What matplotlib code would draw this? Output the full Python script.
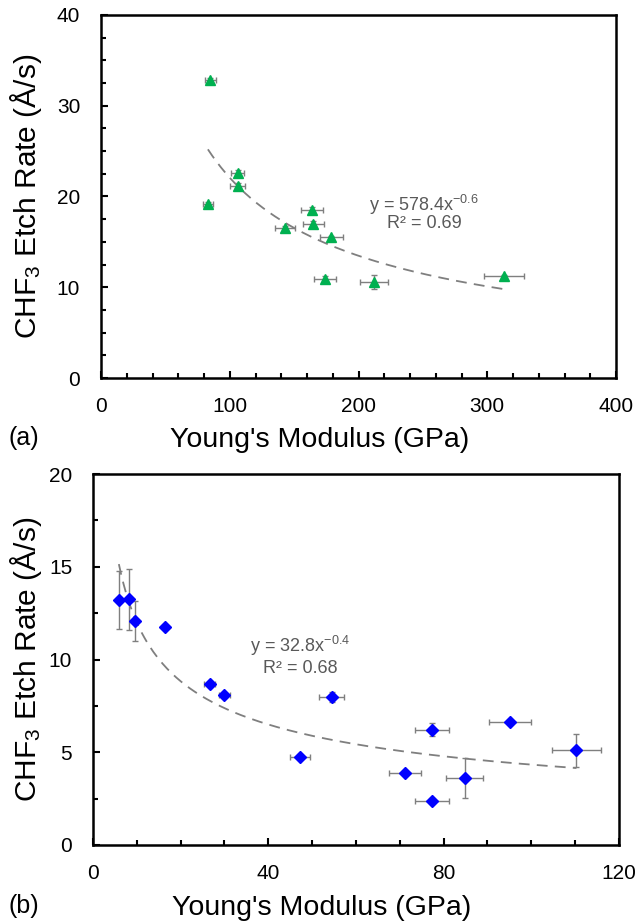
import numpy as np
import matplotlib.pyplot as plt
from matplotlib.ticker import MultipleLocator

plt.rcParams['font.family'] = ['Liberation Sans', 'DejaVu Sans']
plt.rcParams['mathtext.fontset'] = 'custom'
plt.rcParams['mathtext.rm'] = 'Liberation Sans'
plt.rcParams['mathtext.it'] = 'Liberation Sans:italic'

# (a) green triangles
mod_a = [85, 83, 106, 106, 143, 164, 165, 179, 174, 212, 313]
rate_a = [32.8, 19.2, 22.6, 21.2, 16.5, 18.5, 17.0, 15.5, 10.9, 10.6, 11.2]
xerr_a = [4, 4, 5.4, 5.7, 7.5, 8.4, 8.5, 9, 8.8, 10.9, 15.5]
yerr_a = [0.3, 0.2, 0.3, 0.3, 0.2, 0.3, 0.3, 0.2, 0.3, 0.75, 0.2]

# (b) blue diamonds
mod_b = [5.9, 8.1, 9.6, 16.5, 26.6, 30.0, 54.5, 47.2, 77.3, 71.2, 77.3, 84.8, 95.2, 110.3]
rate_b = [13.2, 13.25, 12.1, 11.75, 8.66, 8.1, 8.0, 4.73, 6.22, 3.9, 2.39, 3.6, 6.65, 5.1]
xerr_b = [0, 0, 0, 0, 1.3, 1.25, 2.85, 2.35, 3.9, 3.6, 3.9, 4.25, 4.8, 5.5]
yerr_b = [1.55, 1.65, 1.08, 0, 0.1, 0.1, 0.27, 0, 0.36, 0, 0, 1.08, 0, 0.88]

eq_a = r'y = 578.4x$^{\mathregular{-0.6}}$'
r2_a = 'R² = 0.69'
eq_b = r'y = 32.8x$^{\mathregular{-0.4}}$'
r2_b = 'R² = 0.68'

ylab = r'CHF$_\mathregular{3}$ Etch Rate (Å/s)'
xlab = "Young's Modulus (GPa)"

fig = plt.figure(figsize=(6.37, 9.24), dpi=100)
ax1 = fig.add_axes([0.1586, 0.5909, 0.8085, 0.3929])
ax2 = fig.add_axes([0.146, 0.0855, 0.8257, 0.4015])


def power_fit(x, y):
    # power-law trendline, fitted in log-log space like Excel does
    b, lna = np.polyfit(np.log(x), np.log(y), 1)
    return np.exp(lna), b


def style(ax, xmax, xmaj, xmin, ymax, ymaj, ymin, xl_pos, yl_pos):
    ax.set_xlim(0, xmax)
    ax.set_ylim(0, ymax)
    ax.xaxis.set_major_locator(MultipleLocator(xmaj))
    ax.xaxis.set_minor_locator(MultipleLocator(xmin))
    ax.yaxis.set_major_locator(MultipleLocator(ymaj))
    ax.yaxis.set_minor_locator(MultipleLocator(ymin))
    ax.tick_params(which='both', direction='in', width=1.5, labelsize=15)
    ax.tick_params(which='major', length=5)
    ax.tick_params(which='minor', length=3.5)
    ax.tick_params(axis='x', pad=14)
    ax.tick_params(axis='y', pad=15)
    for s in ax.spines.values():
        s.set_linewidth(1.8)
    ax.set_xlabel(xlab, fontsize=20.5)
    ax.xaxis.label.set_va('baseline')
    ax.xaxis.set_label_coords(*xl_pos)
    ax.set_ylabel(ylab, fontsize=21.5)
    ax.yaxis.set_label_coords(*yl_pos)


# panel a
ax1.errorbar(mod_a, rate_a, xerr=xerr_a, yerr=yerr_a, fmt='none', ecolor='#7f7f7f',
             elinewidth=1, capsize=2, capthick=1, zorder=2)
ax1.plot(mod_a, rate_a, '^', color='#00B050', markersize=7.5, zorder=3)
a, b = power_fit(mod_a, rate_a)
xs = np.linspace(min(mod_a), max(mod_a), 200)
ax1.plot(xs, a * xs ** b, '--', color='#7f7f7f', lw=1.3, dashes=(6, 4), zorder=1)
ax1.text(251, 19.05, eq_a, fontsize=13, color='#595959', ha='center', va='center')
ax1.text(251, 16.97, r2_a, fontsize=13, color='#595959', ha='center', va='center')
style(ax1, 400, 100, 20, 40, 10, 2.5, (0.425, -0.19), (-0.111, 0.5))

# panel b
ax2.errorbar(mod_b, rate_b, xerr=xerr_b, yerr=yerr_b, fmt='none', ecolor='#7f7f7f',
             elinewidth=1, capsize=2, capthick=1, zorder=2)
ax2.plot(mod_b, rate_b, 'D', color='#0000FF', markersize=6.3, zorder=3)
a, b = power_fit(mod_b, rate_b)
xs = np.linspace(min(mod_b), max(mod_b), 200)
ax2.plot(xs, a * xs ** b, '--', color='#7f7f7f', lw=1.3, dashes=(6, 4), zorder=1)
ax2.text(47.3, 10.73, eq_b, fontsize=13, color='#595959', ha='center', va='center')
ax2.text(47.3, 9.54, r2_b, fontsize=13, color='#595959', ha='center', va='center')
style(ax2, 120, 40, 10, 20, 5, 2.5, (0.435, -0.189), (-0.093, 0.5))

fig.text(8 / 637, 1 - 445 / 924, '(a)', fontsize=18, va='baseline', ha='left')
fig.text(8 / 637, 1 - 913 / 924, '(b)', fontsize=18, va='baseline', ha='left')

fig.savefig('out.png', dpi=100)
